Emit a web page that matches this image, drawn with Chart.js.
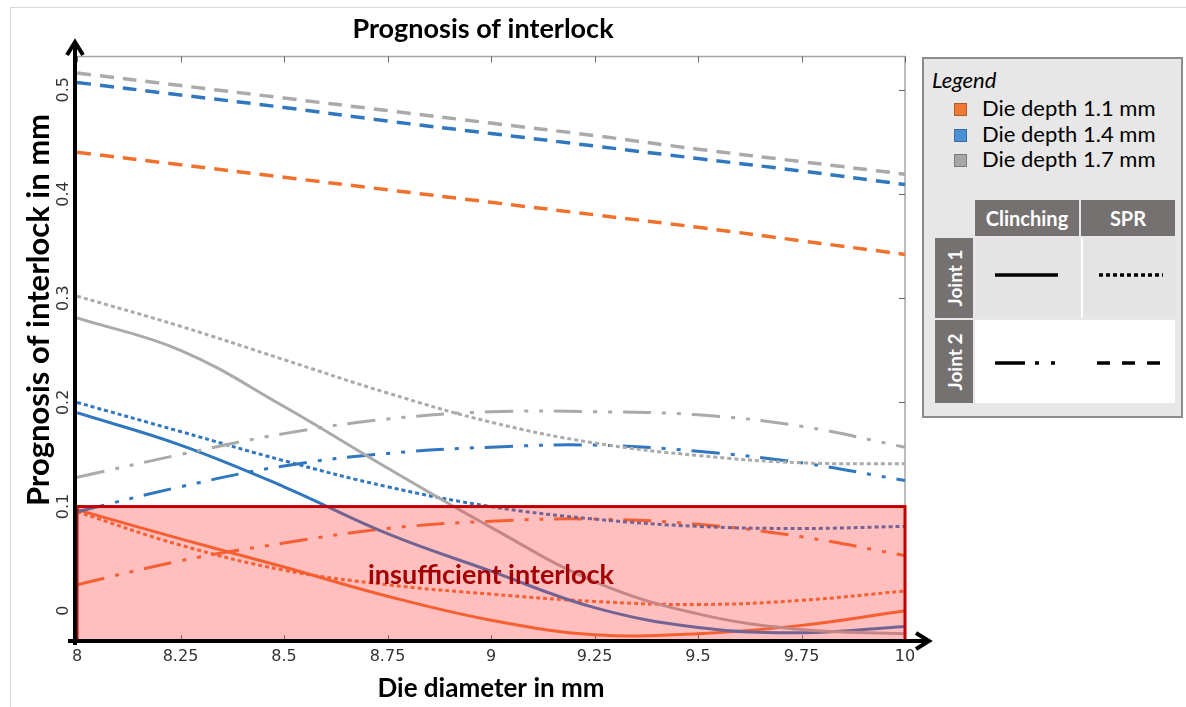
<!DOCTYPE html>
<html>
<head>
<meta charset="utf-8">
<script src="https://cdn.jsdelivr.net/npm/chart.js@4.4.1/dist/chart.umd.min.js"></script>
<style>
  body { margin: 0; background: #fff; width: 1186px; height: 707px; overflow: hidden; position: relative; font-family: Lato, sans-serif; }
  #page-edge { position: absolute; left: 10px; top: 7px; right: -5px; bottom: -5px; border: 1px solid #d9d9d9; }
  #wrap { position: absolute; left: 0; top: 0; width: 966px; height: 707px; }
  #legend { position: absolute; left: 922px; top: 57px; width: 261px; height: 361px; box-sizing: border-box; background: #e7e7e7; border: 2px solid #8c8c8c; }
  #legend .abs { position: absolute; }
  #legend .head { left: 8px; top: 7px; font-style: italic; font-size: 22px; }
  #legend .item { left: 58px; font-size: 22px; line-height: 26px; }
  #legend .sw { left: 30px; width: 11px; height: 11px; border: 1px solid rgba(0,0,0,0.25); }
  #legend .hdr { background: #767171; color: #fff; font-weight: bold; font-size: 20px; display: flex; align-items: center; justify-content: center; }
  #legend .rowlab { background: #767171; color: #fff; font-weight: bold; font-size: 19px; }
  #legend .rowlab span { position: absolute; left: 50%; top: 50%; transform: translate(-50%, -50%) rotate(-90deg); white-space: nowrap; }
  #legend svg { position: absolute; left: 0; top: 0; }
</style>
</head>
<body>
<div id="page-edge"></div>
<div id="wrap"><canvas id="chart" width="966" height="707"></canvas></div>
<div id="legend">
  <div class="abs head">Legend</div>
  <div class="abs sw" style="top:44px;background:#ef7a35"></div>
  <div class="abs item" style="top:36px">Die depth 1.1 mm</div>
  <div class="abs sw" style="top:70px;background:#4a90d4"></div>
  <div class="abs item" style="top:62px">Die depth 1.4 mm</div>
  <div class="abs sw" style="top:95px;background:#a6a6a6"></div>
  <div class="abs item" style="top:87px">Die depth 1.7 mm</div>

  <div class="abs hdr" style="left:51px;top:141px;width:104px;height:36px">Clinching</div>
  <div class="abs hdr" style="left:157px;top:141px;width:94px;height:36px">SPR</div>
  <div class="abs rowlab" style="left:11px;top:179px;width:38px;height:80px"><span>Joint 1</span></div>
  <div class="abs rowlab" style="left:11px;top:261px;width:38px;height:83px"><span>Joint 2</span></div>

  <div class="abs" style="left:51px;top:179px;width:104px;height:80px;background:#e4e4e4">
    <svg width="104" height="80"><line x1="20" y1="37" x2="83" y2="37" stroke="#000" stroke-width="3.5"/></svg>
  </div>
  <div class="abs" style="left:157px;top:179px;width:94px;height:80px;background:#e4e4e4;border-left:2px solid #fff;box-sizing:border-box">
    <svg width="94" height="80"><line x1="16" y1="37" x2="80" y2="37" stroke="#000" stroke-width="3.5" stroke-dasharray="4 3"/></svg>
  </div>
  <div class="abs" style="left:51px;top:261px;width:200px;height:83px;background:#fff">
    <svg width="200" height="83">
      <line x1="20" y1="43" x2="80" y2="43" stroke="#000" stroke-width="3.5" stroke-dasharray="30 10 4 12 4 100"/>
      <line x1="122" y1="43" x2="187" y2="43" stroke="#000" stroke-width="3.5" stroke-dasharray="13 12"/>
    </svg>
  </div>
</div>
<script>
// die diameter (mm) and axis ticks
const xValues = [8, 8.25, 8.5, 8.75, 9, 9.25, 9.5, 9.75, 10];
const xTickLabels = ['8', '8.25', '8.5', '8.75', '9', '9.25', '9.5', '9.75', '10'];
const yTickValues = [0, 0.1, 0.2, 0.3, 0.4, 0.5];
const yTickLabels = ['0', '0.1', '0.2', '0.3', '0.4', '0.5'];
const threshold = 0.1;

// die depth 1.1 mm
const d11ClinchJ1 = [0.097, 0.069, 0.042, 0.014, -0.009, -0.023, -0.022, -0.014, 0.000];
const d11SprJ1 = [0.095, 0.063, 0.039, 0.025, 0.016, 0.009, 0.006, 0.010, 0.019];
const d11ClinchJ2 = [0.025, 0.048, 0.065, 0.079, 0.086, 0.088, 0.083, 0.071, 0.053];
const d11SprJ2 = [0.440, 0.428, 0.416, 0.404, 0.392, 0.380, 0.368, 0.355, 0.342];

// die depth 1.4 mm
const d14ClinchJ1 = [0.190, 0.159, 0.119, 0.074, 0.038, 0.003, -0.016, -0.021, -0.015];
const d14SprJ1 = [0.200, 0.172, 0.144, 0.119, 0.100, 0.088, 0.081, 0.079, 0.081];
const d14ClinchJ2 = [0.095, 0.119, 0.139, 0.151, 0.157, 0.159, 0.153, 0.142, 0.125];
const d14SprJ2 = [0.507, 0.495, 0.483, 0.470, 0.458, 0.446, 0.434, 0.422, 0.409];

// die depth 1.7 mm
const d17ClinchJ1 = [0.281, 0.250, 0.196, 0.137, 0.080, 0.028, -0.003, -0.018, -0.022];
const d17SprJ1 = [0.302, 0.273, 0.241, 0.209, 0.181, 0.161, 0.149, 0.142, 0.141];
const d17ClinchJ2 = [0.128, 0.150, 0.170, 0.184, 0.191, 0.191, 0.188, 0.177, 0.157];
const d17SprJ2 = [0.516, 0.504, 0.492, 0.480, 0.468, 0.456, 0.443, 0.431, 0.419];

const ORANGE = '#f0712c';
const BLUE = '#2f77bf';
const GREY = '#aaaaaa';

const dashes = {
  clinchJ1: [],
  sprJ1: [4, 3],
  clinchJ2: [28, 11, 4, 11, 4, 11],
  sprJ2: [14, 9]
};

function line(values, color, style) {
  return {
    data: values.map((v, i) => ({ x: xValues[i], y: v })),
    borderColor: color,
    borderWidth: style === 'sprJ2' ? 3.5 : 3,
    borderDash: dashes[style],
    pointRadius: 0,
    tension: 0.4,
    fill: false
  };
}

const decorations = {
  id: 'decorations',
  beforeDatasetsDraw(chart) {
    const { ctx, chartArea: a, scales: { x, y } } = chart;
    ctx.save();
    ctx.strokeStyle = '#a6a6a6';
    ctx.lineWidth = 1.5;
    ctx.beginPath();
    ctx.moveTo(a.left, a.top);
    ctx.lineTo(a.right, a.top);
    ctx.lineTo(a.right, a.bottom);
    ctx.stroke();

    ctx.strokeStyle = '#666';
    ctx.lineWidth = 1;
    ctx.beginPath();
    x.ticks.forEach(t => {
      const px = Math.round(x.getPixelForValue(t.value)) + 0.5;
      ctx.moveTo(px, a.top); ctx.lineTo(px, a.top + 6);
      ctx.moveTo(px, a.bottom - 6); ctx.lineTo(px, a.bottom);
    });
    y.ticks.forEach(t => {
      const py = Math.round(y.getPixelForValue(t.value)) + 0.5;
      ctx.moveTo(a.right - 6, py); ctx.lineTo(a.right, py);
    });
    ctx.stroke();

    // rotated y tick labels
    ctx.fillStyle = '#333';
    ctx.font = '16px "DejaVu Sans"';
    ctx.textAlign = 'center';
    ctx.textBaseline = 'middle';
    y.ticks.forEach((t, i) => {
      ctx.save();
      ctx.translate(a.left - 13, y.getPixelForValue(t.value));
      ctx.rotate(-Math.PI / 2);
      ctx.fillText(yTickLabels[i], 0, 0);
      ctx.restore();
    });

    // y axis title
    ctx.fillStyle = '#000';
    ctx.font = 'bold 31px Lato';
    ctx.translate(39, 310);
    ctx.rotate(-Math.PI / 2);
    ctx.fillText('Prognosis of interlock in mm', 0, 0);
    ctx.restore();
  },
  afterDatasetsDraw(chart) {
    const { ctx, chartArea: a, scales: { x, y } } = chart;
    ctx.save();
    // insufficient interlock zone
    const top = y.getPixelForValue(threshold);
    ctx.fillStyle = 'rgba(255, 60, 60, 0.33)';
    ctx.fillRect(a.left, top, a.right - a.left, a.bottom - top);
    ctx.strokeStyle = '#c00000';
    ctx.lineWidth = 3;
    ctx.strokeRect(a.left, top, a.right - a.left, a.bottom - top);
    ctx.fillStyle = '#a50000';
    ctx.font = 'bold 27px Lato';
    ctx.textAlign = 'center';
    ctx.textBaseline = 'middle';
    ctx.fillText('insufficient interlock', x.getPixelForValue(9), y.getPixelForValue(0.034));

    // black arrow axes
    ctx.strokeStyle = '#000';
    ctx.lineWidth = 4;
    ctx.lineJoin = 'miter';
    ctx.beginPath();
    ctx.moveTo(a.left - 2, a.bottom + 4);
    ctx.lineTo(a.left - 2, 42);
    ctx.moveTo(a.left - 10, 55);
    ctx.lineTo(a.left - 2, 42);
    ctx.lineTo(a.left + 6, 55);
    ctx.moveTo(a.left - 9, a.bottom);
    ctx.lineTo(a.right + 24, a.bottom);
    ctx.moveTo(a.right + 11, a.bottom - 8);
    ctx.lineTo(a.right + 24, a.bottom);
    ctx.lineTo(a.right + 11, a.bottom + 8);
    ctx.stroke();
    ctx.restore();
  }
};

new Chart(document.getElementById('chart'), {
  type: 'line',
  data: {
    datasets: [
      line(d11SprJ2, ORANGE, 'sprJ2'),
      line(d14SprJ2, BLUE, 'sprJ2'),
      line(d17SprJ2, GREY, 'sprJ2'),
      line(d17SprJ1, GREY, 'sprJ1'),
      line(d17ClinchJ1, GREY, 'clinchJ1'),
      line(d17ClinchJ2, GREY, 'clinchJ2'),
      line(d14ClinchJ2, BLUE, 'clinchJ2'),
      line(d14SprJ1, BLUE, 'sprJ1'),
      line(d14ClinchJ1, BLUE, 'clinchJ1'),
      line(d11ClinchJ2, ORANGE, 'clinchJ2'),
      line(d11SprJ1, ORANGE, 'sprJ1'),
      line(d11ClinchJ1, ORANGE, 'clinchJ1')
    ]
  },
  options: {
    responsive: false,
    animation: false,
    layout: { padding: 0 },
    plugins: {
      legend: { display: false },
      tooltip: { enabled: false },
      title: {
        display: true,
        text: 'Prognosis of interlock',
        color: '#000',
        font: { family: 'Lato', size: 27, weight: 'bold', lineHeight: 1.2 },
        padding: { top: 13, bottom: 11 }
      }
    },
    scales: {
      x: {
        type: 'linear',
        min: 8,
        max: 10,
        afterBuildTicks: s => { s.ticks = xValues.map(v => ({ value: v })); },
        afterFit: s => { s.height = 66; },
        grid: { display: false, drawTicks: false },
        border: { display: false },
        ticks: {
          autoSkip: false,
          maxRotation: 0,
          padding: 6,
          color: '#333',
          font: { family: 'DejaVu Sans', size: 16 },
          callback: (v, i) => xTickLabels[i]
        },
        title: {
          display: true,
          text: 'Die diameter in mm',
          color: '#000',
          font: { family: 'Lato', size: 26, weight: 'bold' },
          padding: { top: 0, bottom: 3 }
        }
      },
      y: {
        type: 'linear',
        min: -0.029,
        max: 0.532,
        afterBuildTicks: s => { s.ticks = yTickValues.map(v => ({ value: v })); },
        afterFit: s => { s.width = 77; },
        grid: { display: false },
        border: { display: false },
        ticks: { display: false }
      },
      y2: {
        position: 'right',
        afterFit: s => { s.width = 61; },
        grid: { display: false },
        border: { display: false },
        ticks: { display: false }
      }
    }
  },
  plugins: [decorations]
});
</script>
</body>
</html>
